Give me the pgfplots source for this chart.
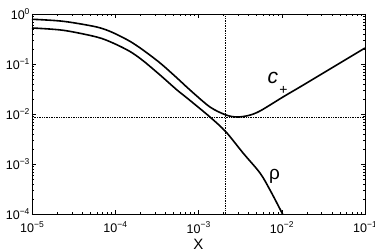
\documentclass[border=0pt]{standalone}
\usepackage{fontspec}
\setmainfont{Liberation Sans}
\usepackage{pgfplots}
\pgfplotsset{compat=1.18}
\newcommand{\tl}[1]{10\raisebox{0.85ex}{\fontsize{8.5}{9}\selectfont #1}}
\begin{document}
\begin{tikzpicture}
\begin{axis}[
  scale only axis, width=333pt, height=200pt,
  xmode=log, ymode=log,
  xmin=1e-5, xmax=1e-1, ymin=1e-4, ymax=1,
  xtick={1e-5,1e-4,1e-3,1e-2,1e-1},
  xticklabels={\tl{−5},\tl{−4},\tl{−3},\tl{−2},\tl{−1}},
  ytick={1e-4,1e-3,1e-2,1e-1,1},
  yticklabels={\tl{−4},\tl{−3},\tl{−2},\tl{−1},\tl{0}},
  tick label style={font=\fontsize{12.5}{13}\selectfont},
  xticklabel style={yshift=-4pt},
  yticklabel style={xshift=1pt},
  tick align=inside, tick pos=both,
  major tick length=4pt, minor tick length=2pt,
  axis line style={line width=0.6pt},
  every tick/.style={black, line width=0.4pt},
  xlabel={X}, xlabel style={font=\fontsize{15}{16}\selectfont, yshift=1pt},
  clip=true,
]
\addplot[black, line width=1.6pt, smooth, tension=0.5] coordinates {
(1e-5,0.785) (2.38e-5,0.714) (5.98e-5,0.550) (9.40e-5,0.423) (1.503e-4,0.284)
(2.15e-4,0.191) (3.45e-4,0.105) (5.52e-4,0.0525) (7.91e-4,0.0302) (1.374e-3,0.0138)
(2.14e-3,9.55e-3) (2.90e-3,8.71e-3) (3.98e-3,9.33e-3) (5.48e-3,0.01148)
(0.01035,0.0219) (0.01656,0.0347) (0.0316,0.0661) (0.1,0.209)
};
\addplot[black, line width=1.6pt, smooth, tension=0.5] coordinates {
(1e-5,0.525) (2.38e-5,0.472) (5.98e-5,0.347) (9.40e-5,0.263) (1.503e-4,0.178)
(2.15e-4,0.117) (3.45e-4,0.0603) (5.52e-4,0.0302) (7.28e-4,0.0209) (1.374e-3,8.71e-3)
(2.14e-3,4.37e-3) (3.43e-3,1.66e-3) (5.48e-3,6.61e-4) (7.23e-3,3.02e-4)
(0.01007,1.05e-4) (0.0106,8.5e-5)
};
\addplot[black, densely dotted, line width=0.7pt] coordinates {(1e-5,8.6e-3) (1e-1,8.6e-3)};
\addplot[black, densely dotted, line width=0.7pt] coordinates {(2.12e-3,1e-4) (2.12e-3,1)};
\node[font=\fontsize{21}{21}\selectfont] at (axis cs:7.85e-3,0.0525) {\textit{c}};
\node[font=\fontsize{14}{14}\selectfont] at (axis cs:1.05e-2,0.03) {+};
\node[font=\fontsize{19}{19}\selectfont] at (axis cs:8.2e-3,5.75e-4) {ρ};
\end{axis}
\pgfresetboundingbox
\path[use as bounding box] ([xshift=-32pt,yshift=-38pt]current axis.south west) rectangle ([xshift=10pt,yshift=14pt]current axis.north east);
\end{tikzpicture}
\end{document}
